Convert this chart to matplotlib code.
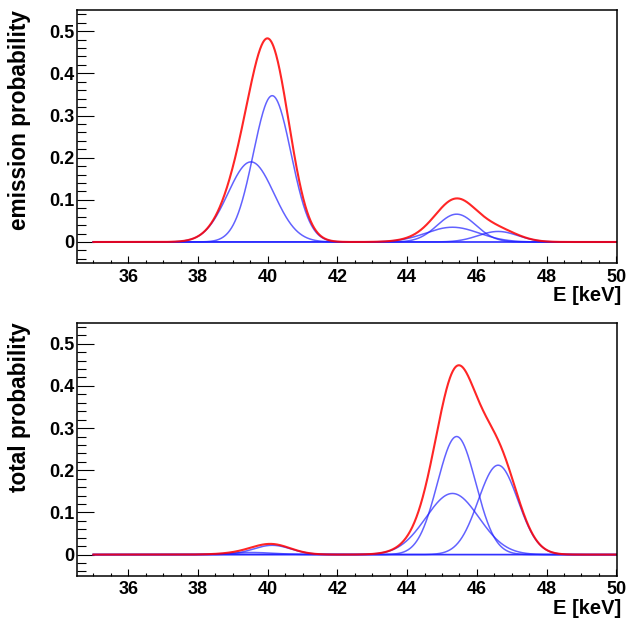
import numpy as np
import matplotlib
matplotlib.use("Agg")
import matplotlib.pyplot as plt
from matplotlib.ticker import MultipleLocator

# energy range of the drawn functions [keV]
e_min = 35.0
e_max = 50.0

# gaussian line components (centre, sigma)
comp_center = [39.52, 40.13, 45.30, 45.42, 46.61]
comp_sigma = [0.66, 0.54, 0.76, 0.55, 0.57]

# peak heights of each component
emission_amp = [0.190, 0.347, 0.035, 0.066, 0.025]
total_amp = [0.005, 0.022, 0.145, 0.280, 0.212]

y_labels = ["emission probability", "total probability"]

plt.rcParams['font.family'] = ['Liberation Sans', 'DejaVu Sans']
plt.rcParams['font.weight'] = 'bold'


def Gauss(x, c, a, s):
    return a * np.exp(-(x - c) ** 2 / (2.0 * s ** 2))


def DrawPanel(ax, amps, label):
    x = np.linspace(e_min, e_max, 1500)

    # single components in blue, their sum in red
    total = np.zeros_like(x)
    for c, a, s in zip(comp_center, amps, comp_sigma):
        y = Gauss(x, c, a, s)
        total += y
        ax.plot(x, y, color='#2020ff', alpha=0.7, lw=1.1)
    ax.plot(x, total, color='red', alpha=0.85, lw=1.5)

    ax.set_xlim(34.53, 50.02)
    ax.set_ylim(-0.05, 0.55)

    ax.xaxis.set_major_locator(MultipleLocator(2))
    ax.xaxis.set_minor_locator(MultipleLocator(0.5))
    ax.yaxis.set_major_locator(MultipleLocator(0.1))
    ax.yaxis.set_minor_locator(MultipleLocator(0.02))
    ax.yaxis.set_major_formatter(plt.FuncFormatter(
        lambda v, p: "0" if abs(v) < 1e-9 else "%g" % round(v, 2)))

    ax.tick_params(axis='y', which='major', direction='in', length=12, width=0.8,
                   labelsize=13, pad=2)
    ax.tick_params(axis='y', which='minor', direction='in', length=6.5, width=0.8)
    ax.tick_params(axis='x', which='major', direction='in', length=5, width=0.8,
                   labelsize=13, pad=4)
    ax.tick_params(axis='x', which='minor', direction='in', length=2.5, width=0.8)
    for lab in ax.get_xticklabels() + ax.get_yticklabels():
        lab.set_fontweight('bold')

    for sp in ax.spines.values():
        sp.set_linewidth(1.1)

    ax.set_xlabel("E [keV]", fontsize=14.5, fontweight='bold', loc='right')
    ax.xaxis.set_label_coords(1.008, -0.092)
    ax.set_ylabel(label, fontsize=16.3, fontweight='bold', loc='top')
    ax.yaxis.set_label_coords(-0.085, 1.0)


fig = plt.figure(figsize=(6.29, 6.19), dpi=100)
ax_1 = fig.add_axes([0.1224, 0.575, 0.8585, 0.4087])
ax_2 = fig.add_axes([0.1224, 0.070, 0.8585, 0.4087])

DrawPanel(ax_1, emission_amp, y_labels[0])
DrawPanel(ax_2, total_amp, y_labels[1])

fig.savefig("out.png", dpi=100)
